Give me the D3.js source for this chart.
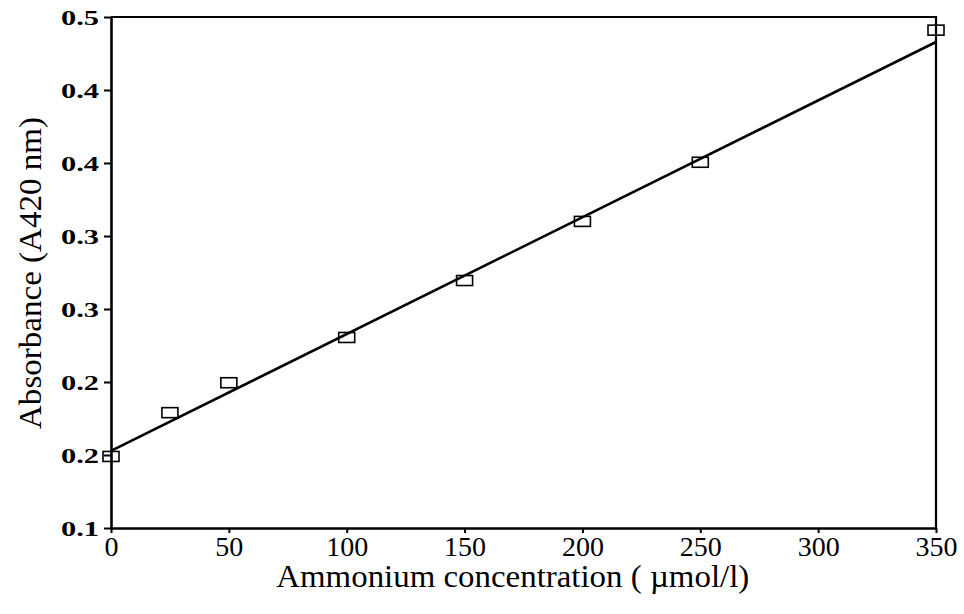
<!DOCTYPE html>
<html>
<head>
<meta charset="utf-8">
<script src="https://cdn.jsdelivr.net/npm/d3@7"></script>
<style>
  body { margin: 0; background: #fff; }
  svg { display: block; }
</style>
</head>
<body>
<div id="chart"></div>
<script>
// data
var concentration = [0, 25, 50, 100, 150, 200, 250, 350];
var absorbance = [0.149, 0.179, 0.1995, 0.2305, 0.2695, 0.310, 0.3505, 0.441];

// fitted line, two end points
var fitX = [0, 350];
var fitY = [0.1528, 0.4329];

var xTicks = [0, 50, 100, 150, 200, 250, 300, 350];
var yTicks = [0.10, 0.15, 0.20, 0.25, 0.30, 0.35, 0.40, 0.45];
var yTickLabels = ["0.1", "0.2", "0.2", "0.3", "0.3", "0.4", "0.4", "0.5"];

var W = 964, H = 614;
var margin = {top: 17, right: 28, bottom: 86, left: 111},
    width = W - margin.left - margin.right,
    height = H - margin.top - margin.bottom;

var serif = "Liberation Serif, Times New Roman, serif";

var svg = d3.select("#chart")
  .append("svg")
    .attr("width", W)
    .attr("height", H);

var g = svg.append("g")
    .attr("transform", "translate(" + margin.left + "," + margin.top + ")");

var x = d3.scaleLinear().domain([0, 350]).range([0, width]);
var y = d3.scaleLinear().domain([0.10, 0.45]).range([height, 0]);

// frame (top and right)
g.append("path")
  .attr("d", "M0,0H" + width + "V" + height)
  .attr("fill", "none")
  .attr("stroke", "#000")
  .attr("stroke-width", 2.2);

// X axis
var xAxis = g.append("g")
  .attr("transform", "translate(0," + height + ")")
  .call(d3.axisBottom(x).tickValues(xTicks).tickSize(5).tickSizeOuter(0).tickPadding(3));

// Y axis
var yAxis = g.append("g")
  .call(d3.axisLeft(y).tickValues(yTicks).tickSize(7).tickSizeOuter(0).tickPadding(5)
    .tickFormat(function(d, i) { return yTickLabels[i]; }));

[xAxis, yAxis].forEach(function(a) {
  a.select(".domain").attr("stroke-width", 2.6);
  a.selectAll(".tick line").attr("stroke-width", 2);
});

xAxis.selectAll("text")
  .attr("font-family", serif)
  .attr("font-size", 28)
  .attr("fill", "#000");

yAxis.selectAll("text")
  .attr("font-family", serif)
  .attr("font-size", 22)
  .attr("font-weight", "bold")
  .attr("textLength", 38)
  .attr("lengthAdjust", "spacingAndGlyphs")
  .attr("fill", "#000");

// regression line
var line = d3.line()
  .x(function(d) { return x(d[0]); })
  .y(function(d) { return y(d[1]); });

g.append("path")
  .datum(d3.zip(fitX, fitY))
  .attr("d", line)
  .attr("fill", "none")
  .attr("stroke", "#000")
  .attr("stroke-width", 2.6);

// open square markers
g.selectAll("rect.pt")
  .data(d3.zip(concentration, absorbance))
  .enter()
  .append("rect")
    .attr("class", "pt")
    .attr("x", function(d) { return x(d[0]) - 8; })
    .attr("y", function(d) { return y(d[1]) - 5; })
    .attr("width", 16)
    .attr("height", 10)
    .attr("fill", "none")
    .attr("stroke", "#000")
    .attr("stroke-width", 1.6);

// axis titles
svg.append("text")
  .attr("x", margin.left + width * 0.487)
  .attr("y", 587)
  .attr("text-anchor", "middle")
  .attr("font-family", serif)
  .attr("font-size", 31)
  .attr("textLength", 473)
  .attr("lengthAdjust", "spacingAndGlyphs")
  .text("Ammonium concentration ( \u00b5mol/l)");

svg.append("text")
  .attr("transform", "translate(41,273) rotate(-90)")
  .attr("text-anchor", "middle")
  .attr("font-family", serif)
  .attr("font-size", 32)
  .attr("textLength", 312)
  .attr("lengthAdjust", "spacingAndGlyphs")
  .text("Absorbance (A420 nm)");
</script>
</body>
</html>
